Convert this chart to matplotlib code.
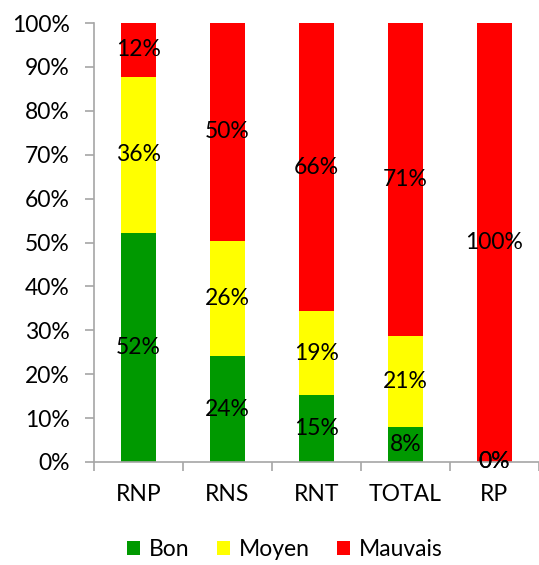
import numpy as np
import matplotlib.pyplot as plt
from matplotlib.patches import Patch

plt.rcParams['font.family'] = ['Lato', 'DejaVu Sans']

# Share of each category per network (in %)
categories = ['RNP', 'RNS', 'RNT', 'TOTAL', 'RP']
bon = [52.2, 24.1, 15.3, 8.0, 0.0]
moyen = [35.6, 26.3, 19.0, 20.7, 0.0]
mauvais = [12.2, 49.6, 65.7, 71.3, 100.0]

series = [('Bon', bon, '#009900'), ('Moyen', moyen, '#FFFF00'), ('Mauvais', mauvais, '#FF0000')]

fig = plt.figure(figsize=(5.39, 5.65), dpi=100)
ax = fig.add_axes([94 / 539, (565 - 462) / 565, 1 - 94 / 539, 439 / 565])

fs = 16.5
x = np.arange(len(categories))
bottom = np.zeros(len(categories))
for name, vals, color in series:
    vals = np.array(vals)
    ax.bar(x, vals, 0.4, bottom=bottom, color=color, label=name)
    for xi, b, v in zip(x, bottom, vals):
        ax.text(xi, b + v / 2, '{:.0f}%'.format(v), ha='center', va='center',
                fontsize=fs, color='black')
    bottom += vals

ax.set_xlim(-0.5, 4.5)
ax.set_ylim(0, 100)
ax.set_yticks(np.arange(0, 101, 10))
ax.set_yticklabels(['{}%'.format(v) for v in range(0, 101, 10)])
ax.set_xticks(x)
ax.set_xticklabels(categories)
ax.set_xticks(np.arange(-0.5, 5, 1), minor=True)

for s in ['top', 'right']:
    ax.spines[s].set_visible(False)
for s in ['left', 'bottom']:
    ax.spines[s].set_color('#A6A6A6')
    ax.spines[s].set_linewidth(1.2)

ax.tick_params(axis='y', length=6.5, width=1.2, color='#A6A6A6', pad=11, labelsize=fs)
ax.tick_params(axis='x', which='major', length=0, pad=16, labelsize=fs)
ax.tick_params(axis='x', which='minor', length=6.5, width=1.2, color='#A6A6A6')

handles = [Patch(facecolor=c, label=n) for n, _, c in series]
fig.legend(handles=handles, loc='center', bbox_to_anchor=(285 / 539, 15 / 565), ncol=3,
           frameon=False, fontsize=fs, handlelength=0.55, handleheight=0.55,
           handletextpad=0.4, columnspacing=1.2)

fig.savefig('out.png', dpi=100)
